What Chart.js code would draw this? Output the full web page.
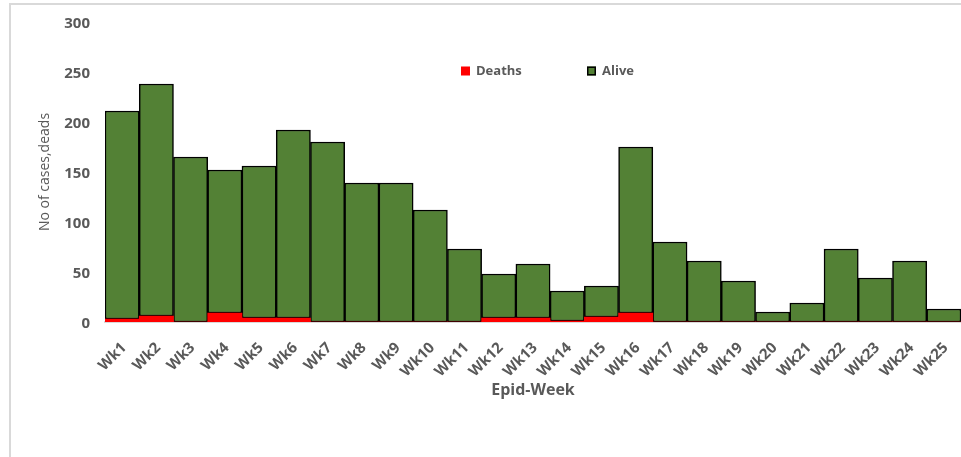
<!DOCTYPE html>
<html>
<head>
<meta charset="utf-8">
<script src="https://cdn.jsdelivr.net/npm/chart.js@4.4.1/dist/chart.umd.min.js"></script>
<style>
  html, body { margin: 0; padding: 0; background: #fff; }
  #wrap { position: relative; width: 961px; height: 457px; overflow: hidden; }
  #frame { position: absolute; left: 9px; top: 3px; width: 1000px; height: 500px;
           border-left: 2px solid #d9d9d9; border-top: 2px solid #d9d9d9; }
  canvas { position: absolute; left: 0; top: 0; }
</style>
</head>
<body>
<div id="wrap">
  <div id="frame"></div>
  <canvas id="c" width="961" height="457"></canvas>
</div>
<script>
const weeks = ['Wk1','Wk2','Wk3','Wk4','Wk5','Wk6','Wk7','Wk8','Wk9','Wk10','Wk11','Wk12','Wk13',
               'Wk14','Wk15','Wk16','Wk17','Wk18','Wk19','Wk20','Wk21','Wk22','Wk23','Wk24','Wk25'];
const deaths = [3, 6, 0, 9, 4, 4, 0, 0, 0, 0, 0, 4, 4, 1, 5, 9, 0, 0, 0, 0, 0, 0, 0, 0, 0];
const alive  = [208, 232, 165, 143, 152, 188, 180, 139, 139, 112, 73, 44, 54, 30, 31, 166, 80, 61, 41, 10, 19, 73, 44, 61, 13];
const yTicks = [0, 50, 100, 150, 200, 250, 300];

const TEXT = '#595959';
const FONT = "'Open Sans', 'DejaVu Sans', sans-serif";

// Legend drawn inside the plot area, centred above the bars
const innerLegend = {
  id: 'innerLegend',
  afterDraw(chart) {
    const ctx = chart.ctx;
    const items = [
      { x: 461, ds: chart.data.datasets[0] },
      { x: 587, ds: chart.data.datasets[1] }
    ];
    ctx.save();
    ctx.font = 'bold 13px ' + FONT;
    ctx.textBaseline = 'middle';
    items.forEach(it => {
      const y = 71;
      ctx.fillStyle = it.ds.backgroundColor;
      ctx.fillRect(it.x, y - 4.5, 9, 9);
      if (it.ds.borderWidth) {
        ctx.strokeStyle = it.ds.borderColor;
        ctx.lineWidth = 1.5;
        ctx.strokeRect(it.x + 0.75, y - 3.75, 7.5, 7.5);
      }
      ctx.fillStyle = TEXT;
      ctx.fillText(it.ds.label, it.x + 15, y);
    });
    ctx.restore();
  }
};

new Chart(document.getElementById('c'), {
  type: 'bar',
  data: {
    labels: weeks,
    datasets: [
      { label: 'Deaths', data: deaths, backgroundColor: '#ff0000', borderWidth: 0,
        barPercentage: 1, categoryPercentage: 1 },
      { label: 'Alive', data: alive, backgroundColor: '#538135', borderColor: '#000000',
        borderWidth: 1.5, borderSkipped: false, barPercentage: 1, categoryPercentage: 1 }
    ]
  },
  options: {
    responsive: false,
    animation: false,
    layout: { padding: { left: 0, right: 0, top: 22, bottom: 0 } },
    plugins: { legend: { display: false }, tooltip: { enabled: false } },
    scales: {
      x: {
        stacked: true,
        grid: { display: false, drawTicks: false },
        border: { display: true, color: '#d9d9d9', width: 2 },
        ticks: { color: TEXT, font: { family: FONT, size: 15, weight: 'bold' },
                 minRotation: 45, maxRotation: 45, autoSkip: false, padding: 17, labelOffset: 2 },
        title: { display: true, text: 'Epid-Week', color: TEXT,
                 font: { family: FONT, size: 16, weight: 'bold' },
                 padding: { top: 0, bottom: 57 } },
        afterFit(s) { s.height = 135; s.paddingLeft = 0; s.paddingRight = 0; }
      },
      y: {
        stacked: true,
        min: 0, max: 300,
        afterBuildTicks(s) { s.ticks = yTicks.map(v => ({ value: v })); },
        grid: { display: false, drawTicks: false },
        border: { display: false },
        ticks: { color: TEXT, font: { family: FONT, size: 15, weight: 'bold' }, padding: 15, labelOffset: 2 },
        title: { display: true, text: 'No of cases,deads', color: TEXT,
                 font: { family: FONT, size: 14, weight: 'normal' },
                 padding: { top: 37, bottom: 0 } },
        afterFit(s) { s.width = 105; s.paddingTop = 0; s.paddingBottom = 0; }
      }
    }
  },
  plugins: [innerLegend]
});
</script>
</body>
</html>
